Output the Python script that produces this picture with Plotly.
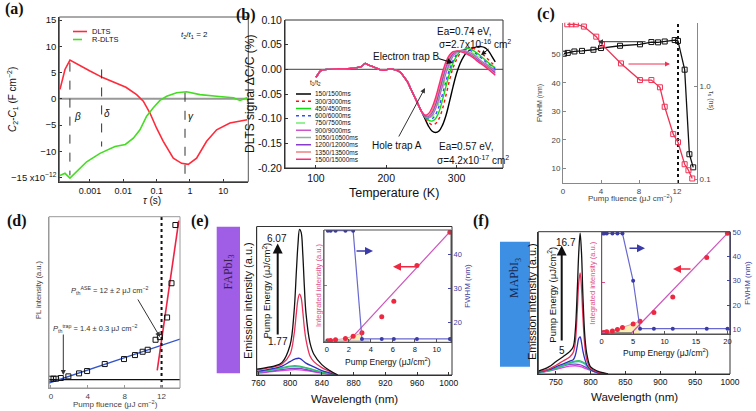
import plotly.graph_objects as go

W, H = 756, 411
def X(p): return p / W
def Y(p): return 1 - p / H

SANS = "Liberation Sans, Arial, sans-serif"
SERIF = "Liberation Serif, Times New Roman, serif"

# ================= DATA =================
# (a) DLTS / R-DLTS vs tau
a_tau_dlts = [1.26e-4, 1.78e-4, 2.51e-4, 5.0e-4, 1.0e-3, 2.51e-3, 5.62e-3, 1.2e-2, 2.51e-2, 3.98e-2,
              6.31e-2, 0.1, 0.158, 0.316, 0.562, 0.891, 1.58, 3.16, 6.31, 15.8, 52]
a_dlts = [1.8, 5.6, 7.4, 6.3, 5.3, 4.0, 3.1, 2.2, 0.8, -0.45, -2.7, -5.6, -8.1, -11.3, -12.3, -12.5,
          -11.3, -8.1, -5.9, -4.6, -4.0]
a_tau_rdlts = [1.26e-4, 1.78e-4, 2.51e-4, 3.98e-4, 7.94e-4, 2.0e-3, 5.62e-3, 1.15e-2, 2.0e-2, 3.16e-2,
               5.01e-2, 7.94e-2, 0.126, 0.2, 0.398, 0.794, 2.0, 6.31, 20, 31.6, 52]
a_rdlts = [-14.6, -14.2, -15.1, -13.9, -12.0, -10.4, -9.1, -8.7, -7.5, -5.9, -3.3, -1.7, -0.3, 0.5,
           1.15, 1.35, 0.8, 0.5, 0.2, -0.3, 0.2]
a_marker_tau = [2.5e-4, 2.24e-3, 0.71]
a_marker_top = [6.9, 5.6, 1.15]
a_marker_bottom = [-14.6, -9.1, -15.8]
a_marker_names = ["β", "δ", "γ"]
a_xticks = [0.001, 0.01, 0.1, 1, 10]
a_xticklabels = ["0.001", "0.01", "0.1", "1", "10"]
a_yticks = [-15, -10, -5, 0, 5, 10, 15]
a_yticklabels = ["−15 x10<sup>−12</sup>", "−10", "−5", "0", "5", "10", "15"]

# (b) DLTS spectra vs temperature
b_T_low = [100, 103, 106, 110, 120, 130, 140, 150, 160, 165, 170, 173, 176, 180, 185, 190, 195,
           200, 205, 210, 215, 220, 225]
b_v_low = [-0.016, -0.01, -0.004, -0.001, 0.0, 0.001, 0.001, 0.002, 0.004, 0.006, 0.012, 0.01,
           0.008, 0.006, 0.003, 0.0, -0.002, -0.001, 0.001, 0.0, -0.002, -0.006, -0.015]
b_T_high = [230, 235, 240, 245, 250, 255, 260, 265, 270, 275, 280, 285, 290, 295, 300, 305, 310,
            315, 320, 325, 330, 335, 340, 345, 350, 355]
b_descent = [-0.025, -0.04, -0.055, -0.07, -0.085]
b_labels = ["150/1500ms", "300/3000ms", "450/4500ms", "600/6000ms", "750/7500ms", "900/9000ms",
            "1050/10500ms", "1200/12000ms", "1350/13500ms", "1500/15000ms"]
b_curves = [
    [-0.1, -0.115, -0.125, -0.128, -0.125, -0.113, -0.093, -0.065, -0.035, -0.008, 0.012, 0.026, 0.035, 0.04, 0.044, 0.046, 0.046, 0.044, 0.038, 0.027, 0.015],
    [-0.098, -0.107, -0.112, -0.11, -0.1, -0.08, -0.052, -0.022, 0.003, 0.02, 0.032, 0.039, 0.043, 0.044, 0.042, 0.038, 0.033, 0.027, 0.02, 0.013, 0.007],
    [-0.097, -0.103, -0.105, -0.1, -0.086, -0.062, -0.034, -0.008, 0.013, 0.027, 0.036, 0.04, 0.042, 0.041, 0.037, 0.032, 0.026, 0.02, 0.014, 0.008, 0.003],
    [-0.096, -0.1, -0.1, -0.092, -0.075, -0.05, -0.023, 0.0, 0.018, 0.03, 0.037, 0.04, 0.04, 0.038, 0.034, 0.029, 0.023, 0.017, 0.011, 0.006, 0.001],
    [-0.095, -0.098, -0.096, -0.086, -0.066, -0.04, -0.014, 0.007, 0.023, 0.033, 0.038, 0.039, 0.038, 0.035, 0.031, 0.026, 0.02, 0.014, 0.009, 0.004, -0.001],
    [-0.095, -0.097, -0.093, -0.08, -0.058, -0.032, -0.007, 0.013, 0.027, 0.035, 0.038, 0.038, 0.036, 0.033, 0.028, 0.023, 0.017, 0.012, 0.007, 0.002, -0.003],
    [-0.094, -0.096, -0.09, -0.075, -0.051, -0.025, 0.0, 0.018, 0.03, 0.036, 0.038, 0.037, 0.035, 0.031, 0.026, 0.021, 0.015, 0.01, 0.005, 0.0, -0.005],
    [-0.094, -0.095, -0.087, -0.07, -0.045, -0.018, 0.006, 0.022, 0.032, 0.037, 0.037, 0.036, 0.033, 0.029, 0.024, 0.019, 0.013, 0.008, 0.003, -0.002, -0.007],
    [-0.093, -0.094, -0.084, -0.065, -0.039, -0.012, 0.011, 0.026, 0.034, 0.037, 0.037, 0.035, 0.032, 0.028, 0.023, 0.017, 0.012, 0.007, 0.002, -0.004, -0.01],
    [-0.093, -0.09, -0.078, -0.058, -0.032, -0.006, 0.016, 0.029, 0.036, 0.037, 0.036, 0.034, 0.031, 0.027, 0.022, 0.016, 0.011, 0.006, 0.0, -0.006, -0.012],
]
b_colors = ["#000000", "#ff1010", "#10dd10", "#3050ff", "#70ee70", "#cc55cc", "#90b0a0", "#8a3acc", "#ee8080", "#ff2a78"]
b_dash = ["solid", "dot", "solid", "dot", "dash", "solid", "solid", "solid", "solid", "solid"]
b_yticks = [-0.2, -0.15, -0.1, -0.05, 0.0, 0.05, 0.1]
b_yticklabels = ["-0.20", "-0.15", "-0.10", "-0.05", "0.00", "0.05", "0.10"]

# (c) FWHM and tau_s vs pump fluence
c_fl_fwhm = [0.1, 0.5, 1.2, 2.0, 3.2, 4.0, 6.0, 8.1, 9.3, 10.0, 10.7, 11.75, 12.1, 12.8, 13.3, 13.7]
c_fwhm = [50.2, 50.5, 51.0, 51.2, 51.6, 52.2, 53.0, 53.5, 54.3, 54.2, 54.5, 55.0, 54.7, 44.6, 14.9, 10.3]
c_fl_tau = [0.45, 0.9, 1.35, 2.2, 3.5, 4.1, 6.1, 8.1, 9.3, 10.2, 10.7, 11.6, 12.1, 12.8, 13.2, 13.6]
c_tau = [4.6, 4.6, 4.6, 4.35, 3.39, 2.8, 1.75, 1.16, 1.16, 0.97, 0.6, 0.305, 0.25, 0.145, 0.125, 0.102]
c_threshold = 12.1

# (d) PL intensity vs pump fluence
d_fl = [0, 0.29, 0.57, 1.08, 1.9, 3.06, 3.93, 5.84, 7.93, 9.12, 9.95, 10.5, 11.35, 11.82, 12.6, 13.08, 13.5]
d_pl = [3, 3, 3, 5, 10, 19, 26, 47, 62, 74, 84, 90, 120, 128, 187, 290, 465]
d_fit_low_x = [-0.2, 14.0]
d_fit_low_y = [-10, 122]
d_fit_high_x = [11.53, 13.87]
d_fit_high_y = [28, 478]
d_threshold = 12.0

# (e) FAPbI3 emission spectra
e_wl_sharp = [758, 770, 780, 790, 800, 805, 808, 810, 812, 814, 816, 818, 820, 825, 830, 840, 850, 860]
e_black = [0.04, 0.05, 0.06, 0.085, 0.2, 0.42, 0.7, 0.88, 0.98, 0.96, 0.82, 0.6, 0.42, 0.22, 0.14, 0.07, 0.03, 0.0]
e_red = [0.035, 0.045, 0.055, 0.075, 0.14, 0.27, 0.42, 0.51, 0.545, 0.52, 0.43, 0.32, 0.24, 0.13, 0.09, 0.05, 0.025, 0.0]
e_wl_broad = [758, 770, 780, 790, 800, 806, 812, 820, 830, 840, 850, 860]
e_blue = [0.025, 0.035, 0.045, 0.06, 0.09, 0.107, 0.112, 0.08, 0.055, 0.03, 0.015, 0.0]
e_green = [0.02, 0.03, 0.04, 0.05, 0.06, 0.063, 0.06, 0.05, 0.035, 0.02, 0.01, 0.0]
e_cyan = [0.018, 0.027, 0.036, 0.045, 0.054, 0.057, 0.055, 0.046, 0.032, 0.018, 0.009, 0.0]
e_purple = [0.015, 0.022, 0.03, 0.037, 0.043, 0.045, 0.044, 0.037, 0.026, 0.015, 0.007, 0.0]
e_magenta = [0.012, 0.018, 0.024, 0.03, 0.034, 0.036, 0.035, 0.03, 0.021, 0.012, 0.006, 0.0]
e_pump = ["6.07", "1.77"]
# (e) inset
e_in_E = [0.1, 0.35, 0.8, 1.7, 2.4, 3.2, 5.0, 6.1, 8.2, 11.2]
e_in_int = [0.5, 0.7, 1.2, 2.5, 4.5, 7.5, 22, 36, 68, 98]
e_in_fwhm = [46.9, 46.9, 46.9, 46.9, 46.9, 15.1, 15.1, 15.1, 15.1, 15.1]
e_fit_E = [2.0, 11.35]
e_fit_int = [0, 100]
e_base_E = [0, 3.9]
e_base_int = [0, 0]

# (f) MAPbI3 emission spectra
f_wl_sharp = [725, 740, 750, 760, 770, 775, 778, 781, 783, 785, 787, 789, 792, 795, 800, 810, 825]
f_black = [0.02, 0.05, 0.086, 0.12, 0.157, 0.19, 0.3, 0.6, 0.85, 0.99, 0.85, 0.55, 0.25, 0.13, 0.05, 0.02, 0.0]
f_red = [0.015, 0.035, 0.06, 0.09, 0.12, 0.15, 0.22, 0.45, 0.64, 0.71, 0.6, 0.4, 0.18, 0.09, 0.04, 0.015, 0.0]
f_blue = [0.012, 0.03, 0.05, 0.07, 0.09, 0.1, 0.13, 0.2, 0.25, 0.26, 0.22, 0.16, 0.1, 0.06, 0.03, 0.01, 0.0]
f_wl_broad = [725, 740, 750, 760, 770, 778, 785, 792, 800, 810, 825]
f_green = [0.01, 0.025, 0.04, 0.06, 0.08, 0.09, 0.093, 0.075, 0.03, 0.01, 0.0]
f_cyan = [0.01, 0.024, 0.038, 0.056, 0.075, 0.085, 0.086, 0.068, 0.028, 0.01, 0.0]
f_purple = [0.01, 0.025, 0.04, 0.055, 0.067, 0.07, 0.065, 0.05, 0.03, 0.01, 0.0]
f_magenta = [0.008, 0.02, 0.032, 0.045, 0.055, 0.058, 0.053, 0.04, 0.025, 0.008, 0.0]
f_pump = ["16.7", "5"]
# (f) inset
f_in_E = [0.2, 0.4, 0.8, 1.7, 2.5, 3.3, 5.0, 6.1, 8.3, 11.3, 16.7, 20.0]
f_in_int = [0.3, 0.6, 1.2, 2.0, 3.5, 5.5, 8.8, 11.5, 20.2, 35.5, 74.6, 98.4]
f_in_fwhm = [49.5, 49.5, 49.5, 49.5, 49.5, 49.5, 30, 10.3, 10.3, 10.3, 10.3, 10.3]
f_fit_E = [4.74, 20.26]
f_fit_int = [0, 100]
f_base_E = [0, 4.8]
f_base_int = [0, 0]

# ================= FIGURE =================
fig = go.Figure()

def line(x, y, xa, ya, color, width=1.3, dash="solid", shape="linear", **kw):
    fig.add_trace(go.Scatter(x=x, y=y, xaxis=xa, yaxis=ya, mode="lines",
                             line=dict(color=color, width=width, dash=dash, shape=shape),
                             showlegend=False, hoverinfo="skip", **kw))

a_xrange = [-3.92, 1.75]
a_yrange = [-15.8, 15.6]
b_xrange = [56, 366]
b_yrange = [-0.2, 0.1]

# (a)
line([1e-4, 60], [0, 0], "x", "y", "#999", 2)
line(a_tau_dlts, a_dlts, "x", "y", "#ff2a3a", 1.6)
line(a_tau_rdlts, a_rdlts, "x", "y", "#44dd22", 1.6)
for t, top, bot in zip(a_marker_tau, a_marker_top, a_marker_bottom):
    line([t, t], [top, bot], "x", "y", "#333", 1.0, "dash")

# (b)
line([56, 366], [0, 0], "x2", "y2", "#666", 1.2)
for vals, col, dsh in zip(b_curves, b_colors, b_dash):
    line(b_T_low + b_T_high, b_v_low + b_descent + vals, "x2", "y2", col, 1.4, dsh, "spline")

# (c)
fig.add_trace(go.Scatter(x=c_fl_fwhm, y=c_fwhm, xaxis="x3", yaxis="y3", mode="lines+markers",
                         line=dict(color="#111", width=1.3),
                         marker=dict(symbol="square-open", size=5, color="#111", line=dict(width=1)),
                         showlegend=False))
fig.add_trace(go.Scatter(x=c_fl_tau, y=c_tau, xaxis="x3", yaxis="y4", mode="lines+markers",
                         line=dict(color="#ee3355", width=1.3),
                         marker=dict(symbol="square-open", size=5, color="#ee3355", line=dict(width=1)),
                         showlegend=False))
line([c_threshold, c_threshold], [4.8, 61.1], "x3", "y3", "#111", 2, "dot")

# (d)
line([-0.2, 14.0], [0, 0], "x4", "y5", "#111", 1.3)
line(d_fit_low_x, d_fit_low_y, "x4", "y5", "#3355cc", 1.3)
line(d_fit_high_x, d_fit_high_y, "x4", "y5", "#ee2244", 1.6)
line([d_threshold, d_threshold], [-25, 490], "x4", "y5", "#111", 2, "dot")
fig.add_trace(go.Scatter(x=d_fl, y=d_pl, xaxis="x4", yaxis="y5", mode="markers",
                         marker=dict(symbol="square-open", size=5, color="#111", line=dict(width=1)),
                         showlegend=False))

# (e) main spectra
for wl, vals, col in [(e_wl_broad, e_magenta, "#e040e0"), (e_wl_broad, e_purple, "#9040c8"),
                      (e_wl_broad, e_cyan, "#40b8c0"), (e_wl_broad, e_green, "#30c060"),
                      (e_wl_broad, e_blue, "#3030c0"), (e_wl_sharp, e_red, "#e8305a"),
                      (e_wl_sharp, e_black, "#111111")]:
    line(wl, vals, "x5", "y6", col, 1.3, shape="spline")
# (e) inset
line(e_in_E[:6], e_in_int[:6], "x6", "y7", "#e8a0b0", 1.0, fill="tozeroy", fillcolor="rgba(250,235,160,0.8)")
line(e_base_E, e_base_int, "x6", "y7", "#b0b0d8", 1.5)
line(e_fit_E, e_fit_int, "x6", "y7", "#cc55bb", 1.2)
fig.add_trace(go.Scatter(x=e_in_E, y=e_in_int, xaxis="x6", yaxis="y7", mode="markers",
                         marker=dict(size=5, color="#ee2840"), showlegend=False))
fig.add_trace(go.Scatter(x=e_in_E, y=e_in_fwhm, xaxis="x6", yaxis="y8", mode="lines+markers",
                         line=dict(color="#6868d0", width=1.2), marker=dict(size=4, color="#3a3aa8"),
                         showlegend=False))

# (f) main spectra
for wl, vals, col in [(f_wl_broad, f_magenta, "#e040e0"), (f_wl_broad, f_purple, "#9040c8"),
                      (f_wl_broad, f_cyan, "#40b8c0"), (f_wl_broad, f_green, "#30c060"),
                      (f_wl_sharp, f_blue, "#3030c0"), (f_wl_sharp, f_red, "#e8305a"),
                      (f_wl_sharp, f_black, "#111111")]:
    line(wl, vals, "x7", "y9", col, 1.3, shape="spline")
# (f) inset
line(f_in_E[:8], f_in_int[:8], "x8", "y10", "#e8a0b0", 1.0, fill="tozeroy", fillcolor="rgba(250,235,160,0.8)")
line(f_base_E, f_base_int, "x8", "y10", "#707070", 1.5)
line(f_fit_E, f_fit_int, "x8", "y10", "#cc55bb", 1.2)
fig.add_trace(go.Scatter(x=f_in_E, y=f_in_int, xaxis="x8", yaxis="y10", mode="markers",
                         marker=dict(size=5, color="#ee2840"), showlegend=False))
fig.add_trace(go.Scatter(x=f_in_E, y=f_in_fwhm, xaxis="x8", yaxis="y11", mode="lines+markers",
                         line=dict(color="#6868d0", width=1.2), marker=dict(size=4, color="#3a3aa8"),
                         showlegend=False))

# ================= AXES =================
def axis(domain, rng, anchor, size=9, color="#111", lc="#333", **kw):
    d = dict(domain=domain, range=rng, anchor=anchor, showgrid=False, zeroline=False,
             automargin=False, showline=True, linecolor=lc, linewidth=1, ticks="inside",
             ticklen=3, tickcolor=lc, tickfont=dict(family=SANS, size=size, color=color),
             ticklabeloverflow="allow")
    d.update(kw)
    return d

A_X, A_Y0, A_X1, A_Y1 = 59.3, 17, 248.3, 181.7      # panel (a) plot box in px
B_X, B_Y0, B_X1, B_Y1 = 285, 20, 503, 168           # panel (b) plot box in px

L = {}
L["xaxis"] = axis([X(A_X), X(A_X1)], a_xrange, "y", 9, type="log", tickvals=a_xticks,
                  ticktext=a_xticklabels)
L["yaxis"] = axis([Y(A_Y1), Y(A_Y0)], a_yrange, "x", 9.5, tickvals=a_yticks,
                  ticktext=a_yticklabels)
L["xaxis2"] = axis([X(B_X), X(B_X1)], b_xrange, "y2", 10.5, tickvals=[100, 200, 300])
L["yaxis2"] = axis([Y(B_Y1), Y(B_Y0)], b_yrange, "x2", 10.5, tickvals=b_yticks,
                   ticktext=b_yticklabels)
L["xaxis3"] = axis([X(563), X(697)], [0, 14.1], "y3", 8, "#444", "#888", tickvals=[0, 4, 8, 12])
L["yaxis3"] = axis([Y(183), Y(22.7)], [4.8, 61.1], "x3", 8, "#444", "#888",
                   tickvals=[10, 20, 30, 40, 50])
L["yaxis4"] = axis([Y(183), Y(22.7)], [-1.04, 0.68], "x3", 8, "#444", "#888", type="log",
                   overlaying="y3", side="right", tickvals=[0.1, 1], ticktext=["0.1", "1.0"])
L["xaxis4"] = axis([X(49), X(180)], [-0.2, 14], "y5", 8, "#444", "#999", tickvals=[0, 4, 8, 12])
L["yaxis5"] = axis([Y(388), Y(216.7)], [-25, 490], "x4", 8, "#444", "#999", showticklabels=False,
                   ticks="")
L["xaxis5"] = axis([X(256.7), X(452)], [758, 1004], "y6", 8.5, tickvals=list(range(760, 1001, 40)))
L["yaxis6"] = axis([Y(375), Y(226.5)], [0, 1.0], "x5", 8, showticklabels=False, ticks="")
L["xaxis6"] = axis([X(324), X(451)], [-0.25, 11.3], "y7", 7.5, tickvals=[0, 2, 4, 6, 8, 10],
                   lc="#555")
L["yaxis7"] = axis([Y(342.3), Y(230)], [-1, 100], "x6", 7, showticklabels=False, lc="#e0508c")
L["yaxis8"] = axis([Y(342.3), Y(230)], [14.1, 47.1], "x6", 7.5, "#4040a0", "#4444aa",
                   overlaying="y7", side="right", tickvals=[20, 30, 40])
L["xaxis7"] = axis([X(538.3), X(730)], [725, 1000], "y9", 8.5, tickvals=list(range(750, 1001, 50)))
L["yaxis9"] = axis([Y(374), Y(231.7)], [0, 1.0], "x7", 8, showticklabels=False, ticks="")
L["xaxis8"] = axis([X(601.7), X(730)], [0, 20.4], "y10", 7.5, tickvals=[0, 5, 10, 15, 20],
                   lc="#555")
L["yaxis10"] = axis([Y(334), Y(231.7)], [-1, 100], "x8", 7, showticklabels=False, lc="#e0508c")
L["yaxis11"] = axis([Y(334), Y(231.7)], [8.1, 50.2], "x8", 7.5, "#4040a0", "#4444aa",
                    overlaying="y10", side="right", tickvals=[10, 20, 30, 40, 50])
# plain right-hand companions for (a) and (b), as in (c)
L["yaxis12"] = axis([Y(A_Y1), Y(A_Y0)], a_yrange, "x", 9, overlaying="y", side="right",
                    showticklabels=False, showline=False, ticks="")
L["yaxis13"] = axis([Y(B_Y1), Y(B_Y0)], b_yrange, "x2", 9, overlaying="y2", side="right",
                    showticklabels=False, showline=False, ticks="")

# ================= ANNOTATIONS / SHAPES =================
ann = []
def T(text, x, y, size=9, color="#111", family=SANS, angle=0, xanchor="center", yanchor="middle"):
    ann.append(dict(text=text, x=X(x), y=Y(y), xref="paper", yref="paper", showarrow=False,
                    font=dict(size=size, color=color, family=family), textangle=angle,
                    xanchor=xanchor, yanchor=yanchor))
def A(hx, hy, tx, ty, color="#111", width=1.2, head=2):
    ann.append(dict(text="", x=X(hx), y=Y(hy), xref="paper", yref="paper", showarrow=True,
                    ax=tx - hx, ay=ty - hy, arrowcolor=color, arrowwidth=width, arrowhead=head,
                    arrowsize=1))

shapes = []
def S(x0, y0, x1, y1, color, width=1.5, dash="solid"):
    shapes.append(dict(type="line", xref="paper", yref="paper", x0=X(x0), y0=Y(y0), x1=X(x1),
                       y1=Y(y1), line=dict(color=color, width=width, dash=dash)))
def BOX(x0, y0, x1, y1, color="#333"):
    shapes.append(dict(type="rect", xref="paper", yref="paper", x0=X(x0), y0=Y(y1), x1=X(x1),
                       y1=Y(y0), line=dict(color=color, width=1), fillcolor="rgba(0,0,0,0)"))

BOX(A_X, A_Y0, A_X1, A_Y1, "#555")
BOX(B_X, B_Y0, B_X1, B_Y1)
BOX(49, 216.7, 180, 388, "#999")
BOX(256.7, 226.5, 452, 375)
BOX(324, 230, 451, 342.3, "#555")
BOX(538.3, 231.7, 730, 374)
BOX(601.7, 231.7, 730, 334, "#555")

# panel labels
for lab, x, y in [("(a)", 14, 9), ("(b)", 246, 15), ("(c)", 546, 14), ("(d)", 17, 221),
                  ("(e)", 200, 221), ("(f)", 481, 221)]:
    T("<b>" + lab + "</b>", x, y, 16, "#111", SERIF)

# (a) texts
T("<i>C</i><sub>2</sub>-<i>C</i><sub>1</sub> (F cm<sup>−2</sup>)", 12, 100, 10, angle=-90)
T("<i>τ</i> (s)", 152, 200, 10)
S(73, 31.5, 87, 31.5, "#ff2a3a", 1.6)
S(73, 39.5, 87, 39.5, "#44dd22", 1.6, "dash")
T("DLTS", 90, 31.5, 7.5, xanchor="left")
T("R-DLTS", 90, 39.5, 7.5, xanchor="left")
T("<i>t</i><sub>2</sub>/<i>t</i><sub>1</sub> = 2", 194, 35, 8)
for name, x, y in zip(a_marker_names, [77, 107, 191], [116.7, 113.3, 116.7]):
    T("<i>" + name + "</i>", x, y, 10)

# (b) texts
T("DLTS signal ΔC/C (%)", 250, 94, 12, angle=-90)
T("Temperature (K)", 394, 193, 12.5)
T("t<sub>1</sub>/t<sub>2</sub>", 315, 83, 6.5)
for i, (lab, col, dsh) in enumerate(zip(b_labels, b_colors, b_dash)):
    yy = 94 + i * 7.25
    S(296, yy, 311, yy, col, 1.5, dsh)
    T(lab, 312.5, yy, 6.5, xanchor="left")
T("Ea=0.74 eV,", 435, 31.7, 10, xanchor="left")
T("σ=2.7x10<sup>-16</sup> cm<sup>2</sup>", 437, 43.5, 10, xanchor="left")
T("Electron trap B", 406, 56.7, 10)
A(453, 63, 437, 58)
A(481, 55, 490, 48, width=1)
T("Hole trap A", 397, 145, 10)
A(425, 88, 398, 138, "#333", 1)
T("Ea=0.57 eV,", 437, 146.7, 10, xanchor="left")
T("σ=4.2x10<sup>-17</sup> cm<sup>2</sup>", 435, 160, 10, xanchor="left")

# (c) texts
T("FWHM (nm)", 540, 103, 7, "#444", angle=-90)
T("τ<sub>s</sub> (ns)", 711, 100, 7, "#444", angle=90)
T("Pump fluence (μJ cm<sup>−2</sup>)", 630, 198, 8, "#444")
A(598, 41.7, 647, 41.7, "#333", 1)
A(670, 64, 627, 64, "#ee3355", 1)

# (d) texts
T("PL intensity (a.u.)", 38, 290, 7.5, "#444", angle=-90)
T("Pump fluence (μJ cm<sup>−2</sup>)", 115, 404, 8, "#444")
T("<i>P</i><sub>th</sub><sup>ASE</sup> = 12 ± 2 μJ cm<sup>−2</sup>", 110, 290.7, 7.5, "#333")
A(160, 337, 137, 298, "#333", 1)
T("<i>P</i><sub>th</sub><sup>trap</sup> = 1.4 ± 0.3 μJ cm<sup>−2</sup>", 95, 328, 7.5, "#333")
A(63.3, 375, 63.3, 333, "#333", 1)

# (e) texts
shapes.append(dict(type="rect", xref="paper", yref="paper", x0=X(216.7), x1=X(240), y0=Y(373.3),
                   y1=Y(226.7), fillcolor="#a05ee6", line=dict(width=0), layer="below"))
T("FAPbI<sub>3</sub>", 228.5, 272, 12, "#3a2050", SERIF, angle=-90)
T("Emission intensity (a.u.)", 248, 301, 11, angle=-90)
T("Wavelength (nm)", 354, 399, 11.5)
T(e_pump[0], 277, 238.3, 10)
T(e_pump[1], 278, 341, 10)
A(277.7, 243.5, 277.7, 336, "#111", 2)
T("Pump Energy (μJ/cm<sup>2</sup>)", 266.5, 291, 9.5, angle=-90)
T("Pump Energy (μJ/cm<sup>2</sup>)", 388, 361, 8.5)
T("Integrated intensity (a.u.)", 318, 286, 7.5, "#e0508c", angle=-90)
T("FWHM (nm)", 467, 286, 8, "#4040a0", angle=-90)
A(373, 251, 355, 251, "#3a3aa8", 1.6)
A(393, 266.7, 417, 266.7, "#ee2840", 1.6)

# (f) texts
shapes.append(dict(type="rect", xref="paper", yref="paper", x0=X(500), x1=X(530), y0=Y(366.7),
                   y1=Y(241.7), fillcolor="#3d8fe3", line=dict(width=0), layer="below"))
T("MAPbI<sub>3</sub>", 515, 278, 12, "#1a2a50", SERIF, angle=-90)
T("Emission intensity (a.u.)", 532, 302, 11, angle=-90)
T("Wavelength (nm)", 634, 397, 11.5)
T(f_pump[0], 566, 242.3, 10)
T(f_pump[1], 562, 350, 10)
A(561.7, 245.5, 561.7, 342, "#111", 2)
T("Pump Energy (μJ/cm<sup>2</sup>)", 551.7, 295, 9.5, angle=-90)
T("Pump Energy (μJ/cm<sup>2</sup>)", 666, 352.5, 8.5)
T("Integrated intensity (a.u.)", 591.7, 283, 7.5, "#e0508c", angle=-90)
T("FWHM (nm)", 747, 283, 8, "#4040a0", angle=-90)
A(645, 248.3, 628, 248.3, "#3a3aa8", 1.6)
A(673, 269, 692, 269, "#ee2840", 1.6)

fig.update_layout(template="none", width=W, height=H, margin=dict(l=0, r=0, t=0, b=0, pad=0),
                  paper_bgcolor="white", plot_bgcolor="rgba(0,0,0,0)", showlegend=False,
                  annotations=ann, shapes=shapes, font=dict(family=SANS), dragmode=False, **L)
fig.write_html("out.html", config={"staticPlot": True, "displayModeBar": False})
